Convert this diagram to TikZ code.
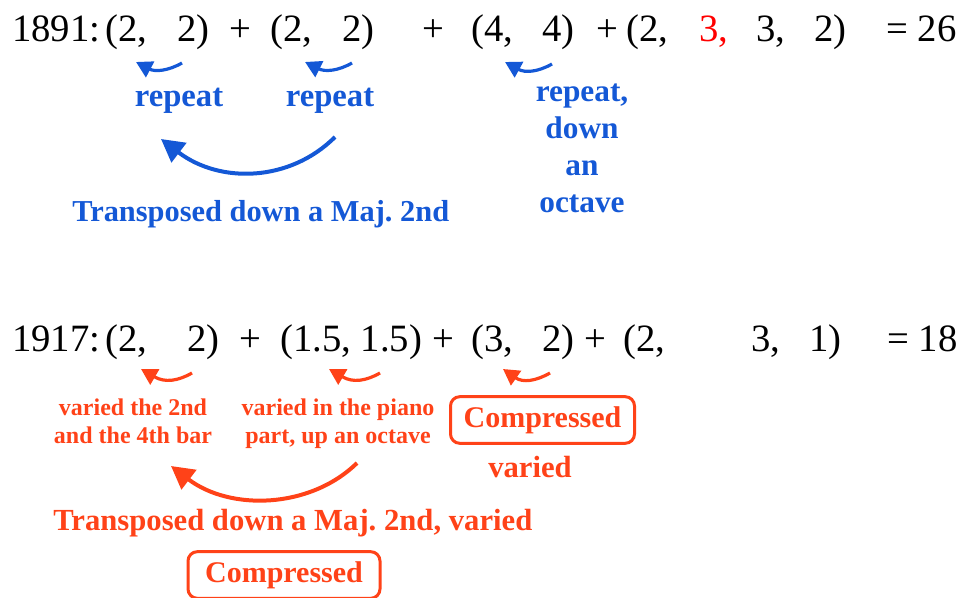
\documentclass[tikz,border=0pt]{standalone}
\usepackage{fontspec}
\setmainfont{Liberation Serif}
\usetikzlibrary{arrows.meta}
\definecolor{noteblue}{RGB}{20,88,214}
\definecolor{notered}{RGB}{255,66,24}
\definecolor{hilite}{RGB}{255,0,0}
\begin{document}
\begin{tikzpicture}[x=0.75pt,y=0.75pt,yscale=-1,xscale=1,
    tally/.style={anchor=base west,inner sep=0pt,font=\fontsize{29}{35}\selectfont},
    bluenote/.style={inner sep=0pt,text=noteblue,align=center,font=\bfseries\fontsize{23.5}{27.75}\selectfont},
    rednote/.style={inner sep=0pt,text=notered,align=center,font=\bfseries\fontsize{23}{27}\selectfont},
    smallred/.style={inner sep=0pt,text=notered,align=center,font=\bfseries\fontsize{18}{21}\selectfont},
    compbox/.style={rednote,font=\bfseries\fontsize{22.5}{27}\selectfont,draw=notered,line width=2.25pt,rounded corners=7pt,minimum width=138pt,minimum height=35pt},
    hook/.style={line width=2.4pt,-{Triangle[length=12pt,width=13pt]}},
    swing/.style={line width=3pt,-{Triangle[length=17pt,width=18pt]}}]
\useasboundingbox (0,0) rectangle (963,598);

% 1891 row
\draw (12,42) node (ya) [tally] {1891:};
\draw (105,42) node (ya1) [tally] {(2,};
\draw (177,42) node (ya2) [tally] {2)};
\draw (229,42) node (pa1) [tally] {+};
\draw (270,42) node (ya3) [tally] {(2,};
\draw (342,42) node (ya4) [tally] {2)};
\draw (422,42) node (pa2) [tally] {+};
\draw (471,42) node (ya5) [tally] {(4,};
\draw (542,42) node (ya6) [tally] {4)};
\draw (596,42) node (pa3) [tally] {+};
\draw (626,42) node (ya7) [tally] {(2,};
\draw (699,42) node (ya8) [tally,text=hilite] {3,};
\draw (756,42) node (ya9) [tally] {3,};
\draw (814,42) node (ya10) [tally] {2)};
\draw (886,42) node (suma) [tally] {= 26};

% 1891 notes
\coordinate (ra1) at (182,63); \coordinate (ta1) at (136,62);
\coordinate (ra2) at (352,63); \coordinate (ta2) at (305,62);
\coordinate (ra3) at (552,64); \coordinate (ta3) at (505,62);
\draw [hook,noteblue] (ra1) .. controls (168,71) and (155,72) .. (ta1);
\draw [hook,noteblue] (ra2) .. controls (338,71) and (325,72) .. (ta2);
\draw [hook,noteblue] (ra3) .. controls (538,72) and (525,73) .. (ta3);
\draw (179,107) node (rep1) [bluenote,anchor=base,font=\bfseries\fontsize{24.5}{29}\selectfont] {repeat};
\draw (330,107) node (rep2) [bluenote,anchor=base,font=\bfseries\fontsize{24.5}{29}\selectfont] {repeat};
\draw (582,213) node (rep3) [bluenote,anchor=base] {repeat,\\down\\an\\octave};
\coordinate (sa) at (335,137); \coordinate (ea) at (161,139);
\draw [swing,noteblue] (sa) .. controls (290,182) and (220,184) .. (ea);
\draw (72,222) node (tra) [bluenote,anchor=base west,font=\bfseries\fontsize{22.8}{27}\selectfont] {Transposed down a Maj.\ 2nd};

% 1917 row
\draw (12,352) node (yb) [tally] {1917:};
\draw (105,352) node (yb1) [tally] {(2,};
\draw (187,352) node (yb2) [tally] {2)};
\draw (239,352) node (pb1) [tally] {+};
\draw (280,352) node (yb3) [tally] {(1.5, 1.5)};
\draw (432,352) node (pb2) [tally] {+};
\draw (471,352) node (yb4) [tally] {(3,};
\draw (542,352) node (yb5) [tally] {2)};
\draw (584,352) node (pb3) [tally] {+};
\draw (623,352) node (yb6) [tally] {(2,};
\draw (751,352) node (yb7) [tally] {3,};
\draw (809,352) node (yb8) [tally] {1)};
\draw (887,352) node (sumb) [tally] {= 18};

% 1917 notes
\coordinate (rb1) at (192,373); \coordinate (tb1) at (141,369);
\coordinate (rb2) at (380,373); \coordinate (tb2) at (329,369);
\coordinate (rb3) at (550,373); \coordinate (tb3) at (503,369);
\draw [hook,notered] (rb1) .. controls (178,381) and (165,383) .. (tb1);
\draw [hook,notered] (rb2) .. controls (366,381) and (353,383) .. (tb2);
\draw [hook,notered] (rb3) .. controls (536,381) and (523,383) .. (tb3);
\draw (133,443) node (var1) [smallred,anchor=base] {varied the 2nd\\and the 4th bar};
\draw (338,443) node (var2) [smallred,anchor=base] {varied in the piano\\part, up an octave};
\draw (542.5,420) node (cmp1) [compbox] {Compressed};
\draw (530,477) node (var3) [rednote,anchor=base] {varied};
\coordinate (sb) at (357,463); \coordinate (eb) at (171,466);
\draw [swing,notered] (sb) .. controls (310,509) and (230,511) .. (eb);
\draw (53,530) node (trb) [rednote,anchor=base west] {Transposed down a Maj.\ 2nd, varied};
\draw (284,575) node (cmp2) [compbox,minimum width=144pt] {Compressed};
\end{tikzpicture}
\end{document}
